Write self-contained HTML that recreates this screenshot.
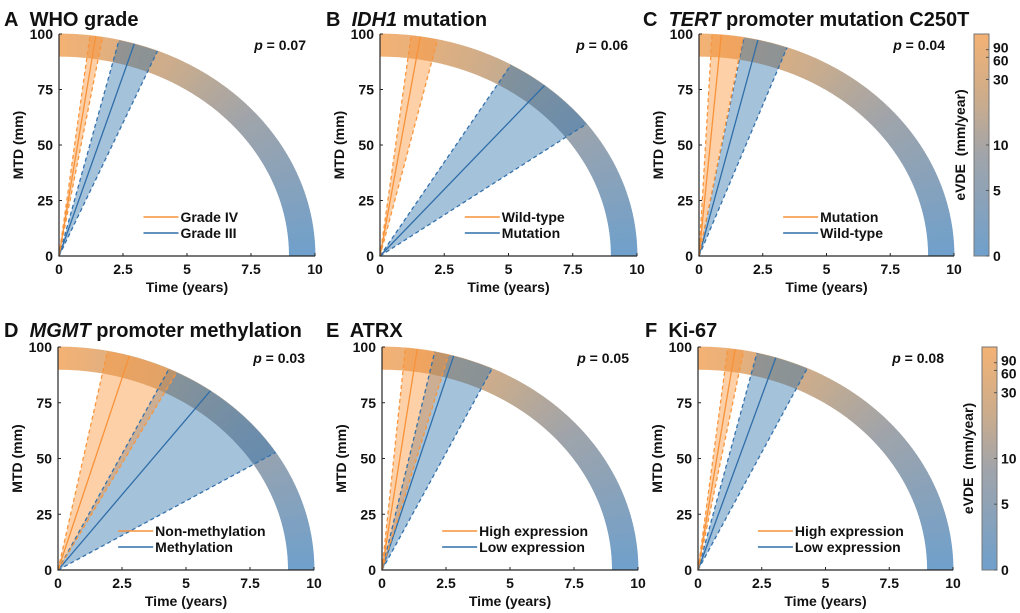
<!DOCTYPE html>
<html><head><meta charset="utf-8"><style>
html,body{margin:0;padding:0;background:#fff}
svg{display:block}
text{font-family:"Liberation Sans",Arial,sans-serif;font-weight:bold;fill:#111}
</style></head><body>
<svg id="fig" width="1020" height="613" viewBox="0 0 1020 613" xmlns="http://www.w3.org/2000/svg"></svg>
<script>
// ---- data (eVDE slopes, mm/year): mean, upper CI, lower CI ----
const panelLetters = ["A","B","C","D","E","F"];
const panelTitles = [["WHO grade",""],["IDH1"," mutation"],["TERT"," promoter mutation C250T"],["MGMT"," promoter methylation"],["ATRX",""],["Ki-67",""]];
const titleItalic = [false,true,true,true,false,false];
const pValues = ["0.07","0.06","0.04","0.03","0.05","0.08"];
const orangeLabels = ["Grade IV","Wild-type","Mutation","Non-methylation","High expression","High expression"];
const blueLabels = ["Grade III","Mutation","Wild-type","Methylation","Low expression","Low expression"];
const orangeMean = [69, 63, 114, 34.4, 72, 68];
const orangeHi = [82, 82, 195, 50.8, 109, 85];
const orangeLo = [58, 43.5, 57, 19.1, 37.1, 55];
const blueMean = [32.5, 12.0, 42.1, 13.5, 34.3, 31.2];
const blueHi = [41.5, 16.9, 55.9, 20.8, 47.5, 42.1];
const blueLo = [24, 7.4, 27.2, 6.2, 21.0, 21.1];
const xTicks = [0, 2.5, 5, 7.5, 10];
const xTickLabels = ["0","2.5","5","7.5","10"];
const yTicks = [0, 25, 50, 75, 100];
const cbTicks = [0, 5, 10, 30, 60, 90];

const NS = "http://www.w3.org/2000/svg";
const svg = document.getElementById("fig");
function mk(tag, attrs, parent){ const e=document.createElementNS(NS,tag); for(const k in attrs) e.setAttribute(k,attrs[k]); (parent||svg).appendChild(e); return e; }

const boxes = [
 {x0:59,x1:315,y0:256,y1:34,tx:4,ty:26},
 {x0:380,x1:637,y0:256,y1:34,tx:326,ty:26},
 {x0:699,x1:954,y0:256,y1:34,tx:643,ty:26},
 {x0:58,x1:314,y0:570,y1:347,tx:4,ty:337},
 {x0:382,x1:638,y0:570,y1:347,tx:326,ty:337},
 {x0:698,x1:953,y0:570,y1:347,tx:645,ty:337}
];
const stops = [[0,[111,160,204]],[0.45,[160,164,170]],[0.68,[200,172,142]],[1,[244,178,116]]];
function colAt(t){
  for(let i=1;i<stops.length;i++){ if(t<=stops[i][0]){ const a=stops[i-1],b=stops[i]; const f=(t-a[0])/(b[0]-a[0]); const c=a[1].map((v,j)=>Math.round(v+(b[1][j]-v)*f)); return `rgb(${c[0]},${c[1]},${c[2]})`; } }
  return "rgb(244,178,116)";
}
function angOf(s){ return Math.atan(s/10); }

boxes.forEach((b,i)=>{
  const g = mk("g",{});
  
  
  const sx = t => b.x0 + t*(b.x1-b.x0)/10;
  const sy = m => b.y0 - m*(b.y0-b.y1)/100;
  const P = (r,phi) => [sx(10*r*Math.cos(phi)), sy(100*r*Math.sin(phi))];
  // title
  const tt = mk("text",{x:b.tx,y:b.ty,"font-size":20},g);
  
  
  const s1=mk("tspan",{},tt); s1.textContent=panelLetters[i]+"\u00a0 ";
  const s2=mk("tspan",{"font-style":titleItalic[i]?"italic":"normal"},tt); s2.textContent=panelTitles[i][0];
  const s3=mk("tspan",{},tt); s3.textContent=panelTitles[i][1];
  // band
  const N=90;
  for(let k=0;k<N;k++){
    const a0=k/N*Math.PI/2, a1=(k+1)/N*Math.PI/2;
    const pts=[P(0.9,a0),P(1,a0),P(1,a1),P(0.9,a1)];
    const c=colAt((k+0.5)/N);
    const seg=mk("polygon",{points:pts.map(p=>p.join(",")).join(" "),fill:c,stroke:c,"stroke-width":0.8},g);
    
    
  }
  // wedges
  function wedge(hi,lo,fill,name){
    const ah=angOf(hi), al=angOf(lo); const pts=[[sx(0),sy(0)]];
    for(let k=0;k<=30;k++){ pts.push(P(1, ah+(al-ah)*k/30)); }
    const w=mk("polygon",{points:pts.map(p=>p.join(",")).join(" "),fill:fill},g);
    
    
  }
  wedge(blueHi[i],blueLo[i],"rgba(40,110,170,0.42)","blue-ci-wedge");
  wedge(orangeHi[i],orangeLo[i],"rgba(250,150,60,0.45)","orange-ci-wedge");
  function ray(s,color,dash,name){
    const e=P(1,angOf(s));
    const l=mk("line",{x1:sx(0),y1:sy(0),x2:e[0],y2:e[1],stroke:color,"stroke-width":1.3},g);
    if(dash) l.setAttribute("stroke-dasharray","4,3");
    
    
  }
  ray(blueHi[i],"#3572ac",true,"blue-ci-upper");
  ray(blueLo[i],"#3572ac",true,"blue-ci-lower");
  ray(blueMean[i],"#2f6ea8",false,"blue-mean-line");
  ray(orangeHi[i],"#f7963e",true,"orange-ci-upper");
  ray(orangeLo[i],"#f7963e",true,"orange-ci-lower");
  ray(orangeMean[i],"#f7923a",false,"orange-mean-line");
  // axes
  const ax=mk("path",{d:`M${b.x0},${b.y1}V${b.y0}H${b.x1}`,stroke:"#262626","stroke-width":1.2,fill:"none"},g);
  
  
  xTicks.forEach((t,k)=>{
    mk("line",{x1:sx(t),x2:sx(t),y1:b.y0,y2:b.y0-3,stroke:"#262626"},g);
    const tl=mk("text",{x:sx(t),y:b.y0+18,"font-size":14,"text-anchor":"middle"},g);
    tl.textContent=xTickLabels[k];
    
    
  });
  yTicks.forEach(m=>{
    mk("line",{x1:b.x0,x2:b.x0+3,y1:sy(m),y2:sy(m),stroke:"#262626"},g);
    const tl=mk("text",{x:b.x0-6,y:sy(m)+5,"font-size":14,"text-anchor":"end"},g);
    tl.textContent=m;
    
    
  });
  const xl=mk("text",{x:(b.x0+b.x1)/2,y:b.y0+36,"font-size":14,"text-anchor":"middle"},g);
  xl.textContent="Time (years)";
  
  
  const yc=(b.y0+b.y1)/2, yx=b.x0-36;
  const yl=mk("text",{x:yx,y:yc,"font-size":14,"text-anchor":"middle",transform:`rotate(-90 ${yx} ${yc})`},g);
  yl.textContent="MTD (mm)";
  
  
  // p value
  const pv=mk("text",{x:b.x1-9,y:b.y1+16,"font-size":14,"text-anchor":"end"},g);
  
  
  const pp=mk("tspan",{"font-style":"italic"},pv); pp.textContent="p";
  const pn=mk("tspan",{},pv); pn.textContent=" = "+pValues[i];
  // legend
  const lx = (i===0||i===1||i===2)? sx(3.3) : sx(2.35);
  [[orangeLabels[i],"#f7923a",39],[blueLabels[i],"#2f6ea8",23]].forEach(([lab,c,off],k)=>{
    const ly=b.y0-off;
    const ll=mk("line",{x1:lx,x2:lx+35,y1:ly,y2:ly,stroke:c,"stroke-width":1.6},g);
    
    
    const lt=mk("text",{x:lx+37,y:ly+5,"font-size":14},g);
    lt.textContent=lab;
    
    
  });
});

// colorbars
const defs=mk("defs",{});
const lg=mk("linearGradient",{id:"cbg",x1:0,y1:1,x2:0,y2:0},defs);
for(let k=0;k<=20;k++){ mk("stop",{offset:k/20,"stop-color":colAt(k/20)},lg); }
[{x:974,y0:256,y1:34},{x:982,y0:570,y1:347}].forEach(c=>{
  const g=mk("g",{});
  
  
  const r=mk("rect",{x:c.x,y:c.y1,width:15,height:c.y0-c.y1,fill:"url(#cbg)",stroke:"#777","stroke-width":1},g);
  
  
  cbTicks.forEach(v=>{
    const f=Math.atan(v/10)/(Math.PI/2);
    const y=c.y0-f*(c.y0-c.y1);
    mk("line",{x1:c.x+12,x2:c.x+15,y1:y,y2:y,stroke:"#555"},g);
    const t=mk("text",{x:c.x+19,y:y+(v===90?3:v===60?8:5),"font-size":14},g);
    t.textContent=v;
    
    
  });
  const cy=(c.y0+c.y1)/2, cx=c.x-9;
  const lt=mk("text",{x:cx,y:cy,"font-size":14,"text-anchor":"middle",transform:`rotate(-90 ${cx} ${cy})`},g);
  lt.textContent="eVDE\u00a0\u00a0(mm/year)";
  
  
});
</script>
</body></html>
